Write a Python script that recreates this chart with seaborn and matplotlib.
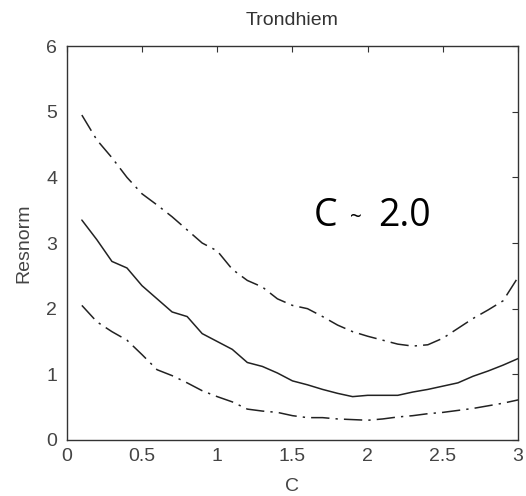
import numpy as np
import pandas as pd
import seaborn as sns
import matplotlib
matplotlib.use("Agg")
import matplotlib.pyplot as plt

c_values = [0.1, 0.2, 0.3, 0.4, 0.5, 0.6, 0.7, 0.8, 0.9, 1.0,
            1.1, 1.2, 1.3, 1.4, 1.5, 1.6, 1.7, 1.8, 1.9, 2.0,
            2.1, 2.2, 2.3, 2.4, 2.5, 2.6, 2.7, 2.8, 2.9, 3.0]
resnorm_mid = [3.35, 3.05, 2.72, 2.62, 2.35, 2.15, 1.95, 1.88, 1.62, 1.50,
               1.38, 1.18, 1.12, 1.02, 0.90, 0.84, 0.77, 0.71, 0.66, 0.68,
               0.68, 0.68, 0.73, 0.77, 0.82, 0.87, 0.97, 1.05, 1.14, 1.24]
resnorm_upper = [4.95, 4.57, 4.30, 4.00, 3.75, 3.58, 3.40, 3.20, 3.00, 2.88,
                 2.60, 2.43, 2.33, 2.15, 2.05, 2.00, 1.88, 1.75, 1.65, 1.58,
                 1.52, 1.46, 1.43, 1.45, 1.55, 1.70, 1.85, 1.98, 2.12, 2.48]
resnorm_lower = [2.05, 1.80, 1.65, 1.52, 1.30, 1.07, 0.98, 0.87, 0.75, 0.66,
                 0.58, 0.47, 0.44, 0.42, 0.37, 0.34, 0.34, 0.32, 0.31, 0.30,
                 0.32, 0.35, 0.37, 0.40, 0.42, 0.45, 0.48, 0.52, 0.56, 0.61]

x_ticks = [0, 0.5, 1, 1.5, 2, 2.5, 3]
x_tick_labels = ["0", "0.5", "1", "1.5", "2", "2.5", "3"]
y_ticks = [0, 1, 2, 3, 4, 5, 6]

sns.set_style("white")
plt.rcParams["font.family"] = ["Liberation Sans", "DejaVu Sans"]

fig = plt.figure(figsize=(5.26, 4.96), dpi=100)
ax = fig.add_axes([0.127, 0.113, 0.858, 0.794])

df = pd.DataFrame({"C": c_values, "mid": resnorm_mid,
                   "upper": resnorm_upper, "lower": resnorm_lower})
lc = "#222222"
sns.lineplot(data=df, x="C", y="mid", ax=ax, color=lc, linewidth=1.1)
sns.lineplot(data=df, x="C", y="upper", ax=ax, color=lc, linewidth=1.1)
ax.lines[-1].set_dashes([12, 4, 1.5, 4])
sns.lineplot(data=df, x="C", y="lower", ax=ax, color=lc, linewidth=1.1)
ax.lines[-1].set_dashes([12, 4, 1.5, 4])

ax.set_xlim(0, 3)
ax.set_ylim(0, 6)
ax.set_xticks(x_ticks)
ax.set_xticklabels(x_tick_labels)
ax.set_yticks(y_ticks)
ax.tick_params(direction="in", length=4, width=0.8, colors="#333333",
               labelsize=14, top=True, right=True, labelcolor="#444444")
ax.tick_params(axis="x", pad=6)
ax.tick_params(axis="y", pad=7)
for s in ax.spines.values():
    s.set_color("#333333")
    s.set_linewidth(1.0)

ax.set_title("Trondhiem", fontsize=14, color="#333333", pad=15)
ax.set_xlabel("C", fontsize=14, color="#444444", labelpad=9)
ax.set_ylabel("Resnorm", fontsize=14, color="#444444", labelpad=10)

ax.text(0.548, 0.569, "C", transform=ax.transAxes, fontsize=27,
        family="Open Sans", va="center", ha="left", color="black")
ax.text(0.628, 0.566, "~", transform=ax.transAxes, fontsize=15,
        family="Open Sans", va="center", ha="left", color="black")
ax.text(0.69, 0.569, "2.0", transform=ax.transAxes, fontsize=27,
        family="Open Sans", va="center", ha="left", color="black")

fig.savefig("out.png", dpi=100, facecolor="white")
